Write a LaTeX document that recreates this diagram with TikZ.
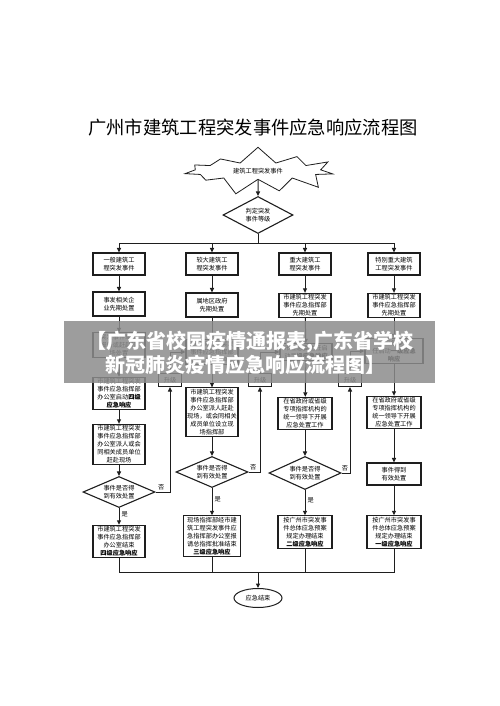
\documentclass[tikz,border=0pt]{standalone}
\usepackage{fontspec}
\setmainfont{Noto Sans CJK SC}
\usetikzlibrary{shapes.geometric, shapes.symbols, arrows.meta, positioning, calc}
\usepackage{xcolor}
\definecolor{inkgray}{RGB}{30,30,30}
\definecolor{bandgray}{RGB}{140,140,140}

\begin{document}
\begin{tikzpicture}[x=1pt, y=-1pt,
        stepbox/.style={rectangle, draw=inkgray, line width=1.1pt, fill=white, font=\fontsize{6.2}{8}\selectfont, align=center, inner sep=1.2pt, minimum width=52pt},
        judge/.style={diamond, aspect=2.3, draw=inkgray, line width=1.1pt, fill=white, font=\fontsize{6.2}{8}\selectfont, align=center, inner sep=0pt, minimum width=72pt, minimum height=31pt},
        upbox/.style={rectangle, draw=inkgray, line width=1.1pt, fill=white, font=\fontsize{6.2}{8}\selectfont, minimum width=23pt, minimum height=13pt, inner sep=1pt},
        burst/.style={starburst, starburst points=11, starburst point height=17pt, random starburst=7, draw=inkgray, line width=0.8pt, fill=white, font=\fontsize{6.2}{8}\selectfont, inner xsep=20pt, inner ysep=3pt},
        arr/.style={draw=inkgray, line width=1pt, -{Triangle[length=4.5pt, width=4pt]}},
        wire/.style={draw=inkgray, line width=1pt},
        tag/.style={font=\fontsize{6.2}{8}\selectfont, inner sep=0pt}
    ]
        \useasboundingbox[fill=white] (0,0) rectangle (500,706);

        \node[font=\fontsize{18.3}{20}\selectfont] (title) at (253,128) {广州市建筑工程突发事件应急响应流程图};
        \node[burst] (event) at (258,171) {建筑工程突发事件};
        \node[judge, minimum width=70pt, minimum height=37pt] (grade) at (258,215) {判定突发\\事件等级};

        \node[stepbox, minimum height=22pt] (l1) at (119,264) {一般建筑工\\程突发事件};
        \node[stepbox, minimum height=22pt] (l2) at (212,264) {较大建筑工\\程突发事件};
        \node[stepbox, minimum height=22pt] (l3) at (305,264) {重大建筑工\\程突发事件};
        \node[stepbox, minimum height=22pt] (l4) at (394,264) {特别重大建筑\\工程突发事件};

        \node[stepbox, minimum height=24pt] (p1) at (119,304) {事发相关企\\业先期处置};
        \node[stepbox, minimum height=24pt] (p2) at (212,305) {属地区政府\\先期处置};
        \node[stepbox] (p3) at (305,305.5) {市建筑工程突发\\事件应急指挥部\\先期处置};
        \node[stepbox] (p4) at (394,305.5) {市建筑工程突发\\事件应急指挥部\\先期处置};

        \node[stepbox] (s1) at (119,345) {突发事件单位\\报告或赶赴现\\场处置};
        \node[stepbox] (s2) at (212,352) {市建筑工程突发\\事件应急指挥部\\启动三级应急响应};
        \node[stepbox] (s3) at (306,352) {市应急委主任启\\动\textbf{二级应急响应}};
        \node[stepbox, minimum width=58pt] (s4) at (394,351) {市应急委主\\任启动\textbf{一级应急}\\\textbf{响应}};

        \node[stepbox] (r1) at (119,393.5) {市建筑工程突发\\事件应急指挥部\\办公室启动\textbf{四级}\\\textbf{应急响应}};
        \node[upbox] (u2) at (170,380) {升级};
        \node[upbox] (u3) at (260,380) {升级};
        \node[upbox] (u4) at (350,380) {升级};
        \node[stepbox] (r2) at (212,412) {市建筑工程突发\\事件应急指挥部\\办公室派人赶赴\\现场，或会同相关\\成员单位设立现\\场指挥部};
        \node[stepbox, minimum width=54pt] (r3) at (305,413.5) {在省政府或省级\\专项指挥机构的\\统一领导下开展\\应急处置工作};
        \node[stepbox, minimum width=54pt] (r4) at (394,412.5) {在省政府或省级\\专项指挥机构的\\统一领导下开展\\应急处置工作};

        \node[stepbox] (w1) at (119,444.5) {市建筑工程突发\\事件应急指挥部\\办公室派人或会\\同相关成员单位\\赶赴现场};

        \node[judge] (d1) at (119,492) {事件是否得\\到有效处置};
        \node[judge] (d2) at (212,472) {事件是否得\\到有效处置};
        \node[judge, minimum height=33pt] (d3) at (305,473) {事件是否得\\到有效处置};
        \node[stepbox, minimum width=54pt, minimum height=22pt] (ok4) at (394,474) {事件得到\\有效处置};

        \node[stepbox] (e1) at (119,541.5) {市建筑工程突发\\事件应急指挥部\\办公室结束\\\textbf{四级应急响应}};
        \node[stepbox, minimum width=57pt] (e2) at (212,536) {现场指挥部经市建\\筑工程突发事件应\\急指挥部办公室报\\请总指挥批准结束\\\textbf{三级应急响应}};
        \node[stepbox, minimum width=54pt] (e3) at (305,532) {按广州市突发事\\件总体应急预案\\规定办理结束\\\textbf{二级应急响应}};
        \node[stepbox, minimum width=54pt] (e4) at (394,532) {按广州市突发事\\件总体应急预案\\规定办理结束\\\textbf{一级应急响应}};

        \node[ellipse, draw=inkgray, line width=1pt, font=\fontsize{6.2}{8}\selectfont, minimum width=48pt, minimum height=19pt, inner sep=0pt] (finish) at (258,598) {应急结束};

        \coordinate (bus) at (258,243);
        \coordinate (join) at (258,572);

        \draw[arr] (event) -- (grade);
        \draw[wire] (grade) -- (bus);
        \foreach \n in {l1,l2,l3,l4}
            \draw[arr] (bus) -| (\n);

        \draw[arr] (l1) -- (p1);
        \draw[arr] (p1) -- (s1);
        \draw[arr] (s1) -- (r1);
        \draw[arr] (r1) -- (w1);
        \draw[arr] (w1) -- (d1);
        \draw[arr] (d1) -- node[tag, right=2pt, pos=0.4] {是} (e1);

        \draw[arr] (l2) -- (p2);
        \draw[arr] (p2) -- (s2);
        \draw[arr] (s2) -- (r2);
        \draw[arr] (r2) -- (d2);
        \draw[arr] (d2) -- node[tag, right=2pt, pos=0.4] {是} (e2);

        \draw[arr] (l3) -- (p3);
        \draw[arr] (p3) -- (s3);
        \draw[arr] (s3) -- (r3);
        \draw[arr] (r3) -- (d3);
        \draw[arr] (d3) -- node[tag, right=2pt, pos=0.4] {是} (e3);

        \draw[arr] (l4) -- (p4);
        \draw[arr] (p4) -- (s4);
        \draw[arr] (s4) -- (r4);
        \draw[arr] (r4) -- (ok4);
        \draw[arr] (ok4) -- (e4);

        \draw[arr] (d1.east) -| node[tag, above=2pt, pos=0.2] {否} (u2);
        \draw[arr] (u2) |- (s2);
        \draw[arr] (d2.east) -| node[tag, above=2pt, pos=0.2] {否} (u3);
        \draw[arr] (u3) |- (s3);
        \draw[arr] (d3.east) -| node[tag, above=2pt, pos=0.2] {否} (u4);
        \draw[arr] (u4) |- (s4);

        \foreach \n in {e1,e2,e3,e4}
            \draw[wire] (\n) |- (join);
        \draw[arr] (join) -- (finish);

        \fill[bandgray, opacity=0.85] (64,321) rectangle (435,383);
        \node[text=white, font=\fontsize{20}{23}\bfseries\selectfont] (band1) at (250,342) {【广东省校园疫情通报表,广东省学校};
        \node[text=white, font=\fontsize{20}{23}\bfseries\selectfont] (band2) at (245,365) {新冠肺炎疫情应急响应流程图】};
    \end{tikzpicture}
\end{document}
